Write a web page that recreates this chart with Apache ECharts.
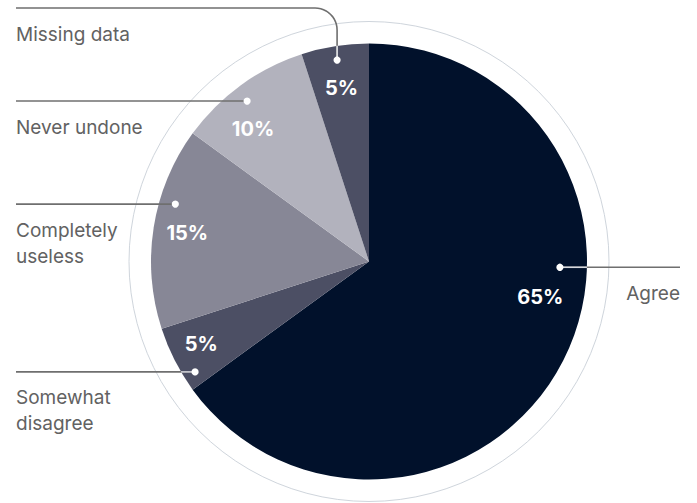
<!DOCTYPE html>
<html>
<head>
<meta charset="utf-8">
<script src="https://cdn.jsdelivr.net/npm/echarts@6/dist/echarts.min.js"></script>
<style>
  html, body { margin: 0; padding: 0; background: #ffffff; }
  #chart { width: 697px; height: 503px; }
</style>
</head>
<body>
<div id="chart"></div>
<script>
// Survey answers, clockwise from 12 o'clock
const categories = ['Agree', 'Somewhat disagree', 'Completely useless', 'Never undone', 'Missing data'];
const shares = [65, 5, 15, 10, 5];
const categoryLabels = ['Agree', 'Somewhat\ndisagree', 'Completely\nuseless', 'Never undone', 'Missing data'];

// Styling
const palette = ['#01112b', '#4c4f64', '#878796', '#b2b2bd', '#4c4f64'];
const FONT = 'Inter, "Noto Sans", sans-serif';
const TEXT_GREY = '#626262';
const LINE_GREY = '#6f6f6f';

// Geometry of the pie
const CX = 369, CY = 261.5, R = 218, RING_R = 240;
const LEFT_X = 16, RIGHT_X = 680;

// Where each percentage sits: fraction along the slice's arc and distance from centre
const pctPlacement = [
  { frac: 0.435, r: 175 },
  { frac: 0.545, r: 187 },
  { frac: 0.50,  r: 184 },
  { frac: 0.355, r: 176 },
  { frac: 0.50,  r: 176 }
];
// Leader-line anchors (dot on the slice) and how the guide leaves the pie
const guides = [
  { frac: 0.392, r: 191, side: 'right', inner: '#d6d8de' },
  { frac: 0.20,  r: 206, side: 'left',  inner: '#c9cad3' },
  { frac: 0.639, r: 202, side: 'left',  inner: null },
  { frac: 0.466, r: 201.5, side: 'left', inner: null },
  { frac: 0.50,  r: 204, side: 'left',  inner: '#e6e7ec', elbowY: 8, corner: 22 }
];

const total = shares.reduce((a, b) => a + b, 0);
const starts = [];
shares.reduce((acc, v) => { starts.push(acc); return acc + v; }, 0);

// Point inside slice i at a given fraction of its sweep and radius
function polar(i, frac, r) {
  const a = (90 - (starts[i] + frac * shares[i]) / total * 360) * Math.PI / 180;
  return [CX + r * Math.cos(a), CY - r * Math.sin(a)];
}

const anchors = guides.map((g, i) => polar(i, g.frac, g.r));

// Guide lines, dots and the outer ring
const graphics = [{
  type: 'circle', silent: true, z: 1,
  shape: { cx: CX, cy: CY, r: RING_R },
  style: { fill: 'none', stroke: '#cfd5dc', lineWidth: 1 }
}];

guides.forEach((g, i) => {
  const [dx, dy] = anchors[i];
  let pts, innerPts = null;
  if (g.elbowY != null) {
    // horizontal run at the top, rounded corner, then straight down to the dot
    const c = g.corner;
    pts = [[LEFT_X, g.elbowY]];
    for (let k = 0; k <= 12; k++) {
      const t = (k / 12) * Math.PI / 2;
      pts.push([dx - c + c * Math.sin(t), g.elbowY + c - c * Math.cos(t)]);
    }
    pts.push([dx, dy]);
    const edgeY = CY - Math.sqrt(R * R - (dx - CX) * (dx - CX));
    innerPts = [[dx, edgeY], [dx, dy]];
  } else if (g.side === 'left') {
    pts = [[LEFT_X, dy], [dx, dy]];
    const edgeX = CX - Math.sqrt(R * R - (dy - CY) * (dy - CY));
    innerPts = [[edgeX, dy], [dx, dy]];
  } else {
    pts = [[dx, dy], [RIGHT_X, dy]];
    const edgeX = CX + Math.sqrt(R * R - (dy - CY) * (dy - CY));
    innerPts = [[dx, dy], [edgeX, dy]];
  }
  graphics.push({
    type: 'polyline', silent: true, z: 10,
    shape: { points: pts },
    style: { stroke: LINE_GREY, lineWidth: 1.6, fill: null }
  });
  if (g.inner) {
    graphics.push({
      type: 'polyline', silent: true, z: 11,
      shape: { points: innerPts },
      style: { stroke: g.inner, lineWidth: 1.6, fill: null }
    });
  }
  graphics.push({
    type: 'circle', silent: true, z: 12,
    shape: { cx: dx, cy: dy, r: 3.6 },
    style: { fill: '#ffffff' }
  });
});

const chart = echarts.init(document.getElementById('chart'), null, { renderer: 'svg' });

chart.setOption({
  animation: false,
  backgroundColor: '#ffffff',
  graphic: { elements: graphics },
  series: [
    {
      // the slices, with their percentage labels
      type: 'pie',
      silent: true,
      center: [CX, CY],
      radius: [0, R],
      startAngle: 90,
      clockwise: true,
      avoidLabelOverlap: false,
      itemStyle: { borderWidth: 0 },
      label: {
        show: true,
        position: 'inside',
        formatter: p => shares[p.dataIndex] + '%',
        color: '#ffffff',
        fontFamily: FONT,
        fontWeight: 'bold',
        fontSize: 20
      },
      labelLine: { show: false },
      labelLayout: p => {
        const pl = pctPlacement[p.dataIndex];
        const [x, y] = polar(p.dataIndex, pl.frac, pl.r);
        return { x: x, y: y, align: 'center', verticalAlign: 'middle' };
      },
      data: categories.map((name, i) => ({
        name: name, value: shares[i], itemStyle: { color: palette[i] }
      }))
    },
    {
      // category names at the ends of the guide lines
      type: 'pie',
      silent: true,
      center: [CX, CY],
      radius: [0, R],
      startAngle: 90,
      clockwise: true,
      avoidLabelOverlap: false,
      itemStyle: { color: 'rgba(0,0,0,0)', borderWidth: 0 },
      label: {
        show: true,
        position: 'outside',
        formatter: p => categoryLabels[p.dataIndex],
        color: TEXT_GREY,
        fontFamily: FONT,
        fontSize: 19,
        lineHeight: 26
      },
      labelLine: { show: false },
      labelLayout: p => {
        const g = guides[p.dataIndex];
        const lineY = g.elbowY != null ? g.elbowY : anchors[p.dataIndex][1];
        return {
          x: g.side === 'left' ? LEFT_X : RIGHT_X,
          y: lineY + 13,
          align: g.side === 'left' ? 'left' : 'right',
          verticalAlign: 'top'
        };
      },
      data: categories.map((name, i) => ({ name: name, value: shares[i] }))
    }
  ]
});
</script>
</body>
</html>
